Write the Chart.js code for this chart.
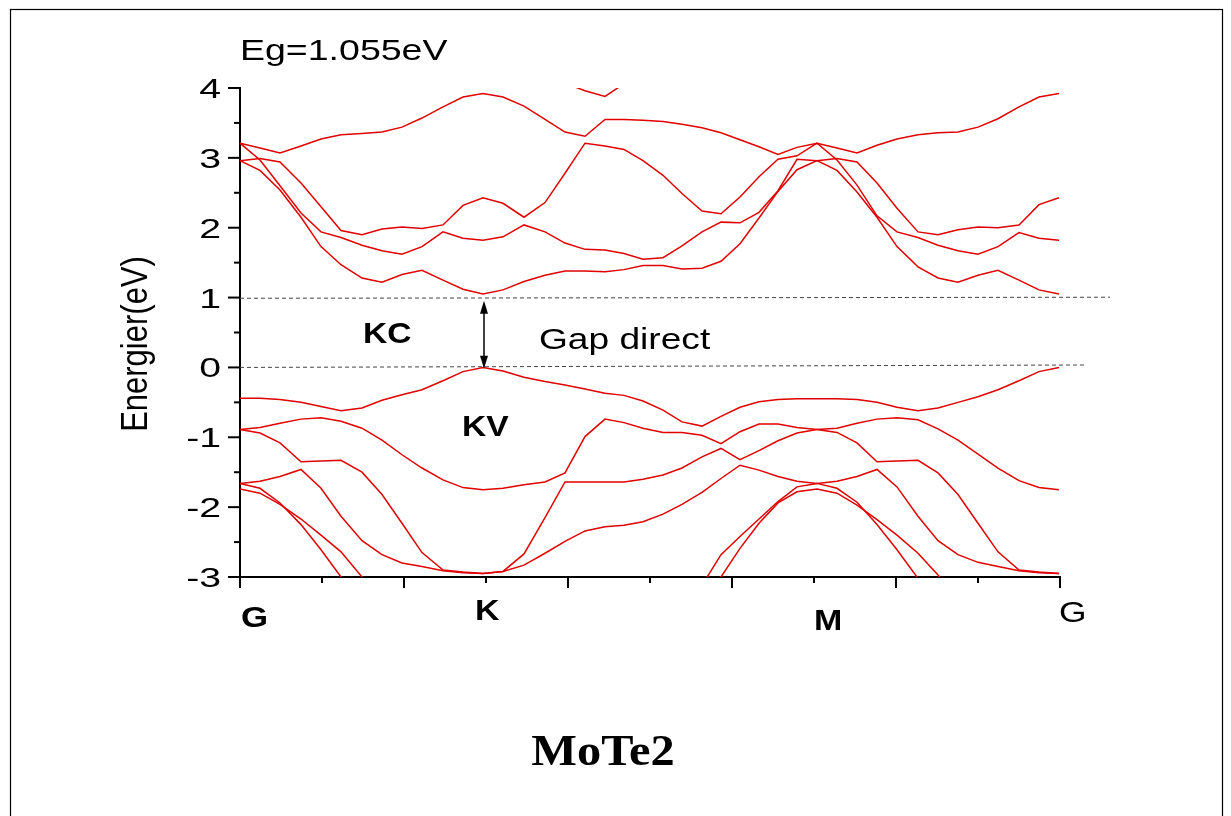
<!DOCTYPE html>
<html>
<head>
<meta charset="utf-8">
<script src="https://cdn.jsdelivr.net/npm/chart.js@4.4.0/dist/chart.umd.min.js"></script>
<style>
html,body{margin:0;padding:0;background:#fff;}
canvas{display:block;}
</style>
</head>
<body>
<canvas id="c" width="1231" height="816"></canvas>
<script>
// k-path coordinate of every computed point (G-K : 13 pts, K-M : 17 pts, M-G : 12 pts)
const kPath = [0,20,40,61,81,101,122,142,162,182,203,223,243,
  263,284,305,325,345,365,384,403,423,442,462,481,500,519,538,557,577,
  597,617,637,657,678,698,718,738,758,779,799,819];

// conduction bands (eV)
const cb1 = [2.96,2.82,2.54,2.15,1.73,1.47,1.28,1.22,1.33,1.39,1.25,1.12,1.05,
  1.11,1.23,1.32,1.38,1.38,1.37,1.40,1.46,1.46,1.41,1.42,1.52,1.77,2.14,2.52,2.83,2.96,
  2.82,2.51,2.15,1.73,1.44,1.28,1.22,1.32,1.39,1.25,1.11,1.05];
const cb2 = [3.21,2.97,2.60,2.21,1.94,1.86,1.75,1.67,1.62,1.73,1.94,1.85,1.82,
  1.87,2.04,1.94,1.78,1.69,1.68,1.63,1.55,1.57,1.74,1.94,2.08,2.07,2.22,2.53,2.98,2.96,
  2.99,2.94,2.64,2.28,1.94,1.90,1.97,2.01,2.00,2.04,2.33,2.43];
const cb3 = [2.96,2.99,2.94,2.64,2.30,1.96,1.90,1.98,2.01,1.99,2.04,2.32,2.43,
  2.35,2.15,2.36,2.78,3.21,3.17,3.12,2.96,2.75,2.49,2.24,2.20,2.44,2.73,2.98,3.03,3.21,
  2.97,2.61,2.17,1.94,1.86,1.75,1.67,1.62,1.73,1.93,1.85,1.82];
const cb4 = [3.21,3.14,3.07,3.17,3.27,3.33,3.35,3.37,3.44,3.57,3.73,3.87,3.92,
  3.87,3.74,3.55,3.37,3.31,3.55,3.55,3.54,3.52,3.48,3.43,3.36,3.26,3.16,3.05,3.15,3.21,
  3.14,3.07,3.18,3.27,3.33,3.36,3.37,3.44,3.56,3.73,3.87,3.92];
const cb5 = [null,null,null,null,null,null,null,null,null,null,null,null,null,
  null,null,null,4.07,3.96,3.88,4.06,null,null,null,null,null,null,null,null,null,null,
  null,null,null,null,null,null,null,null,null,null,null,null];

// valence bands (eV)
const vb1 = [-0.44,-0.44,-0.46,-0.50,-0.56,-0.62,-0.58,-0.47,-0.39,-0.32,-0.19,-0.06,0.00,
  -0.05,-0.14,-0.20,-0.25,-0.31,-0.37,-0.40,-0.48,-0.61,-0.78,-0.84,-0.70,-0.57,-0.49,-0.46,-0.45,-0.45,
  -0.45,-0.46,-0.50,-0.57,-0.62,-0.58,-0.50,-0.42,-0.32,-0.19,-0.06,0.00];
const vb2 = [-0.89,-0.86,-0.80,-0.74,-0.72,-0.77,-0.87,-1.04,-1.25,-1.44,-1.61,-1.72,-1.75,
  -1.73,-1.68,-1.64,-1.51,-0.99,-0.74,-0.79,-0.87,-0.93,-0.93,-0.97,-1.09,-0.92,-0.81,-0.81,-0.86,-0.89,
  -0.93,-1.08,-1.35,-1.34,-1.33,-1.51,-1.82,-2.23,-2.64,-2.90,-2.93,-2.95];
const vb3 = [-0.89,-0.94,-1.08,-1.35,-1.34,-1.33,-1.50,-1.82,-2.23,-2.65,-2.90,-2.93,-2.95,
  -2.92,-2.67,-2.15,-1.64,-1.64,-1.64,-1.64,-1.60,-1.54,-1.44,-1.28,-1.16,-1.32,-1.19,-1.05,-0.94,-0.89,
  -0.87,-0.80,-0.74,-0.72,-0.75,-0.88,-1.04,-1.24,-1.44,-1.62,-1.72,-1.75];
const vb4 = [-1.66,-1.63,-1.56,-1.46,-1.73,-2.13,-2.48,-2.68,-2.80,-2.85,-2.91,-2.94,-2.95,
  -2.92,-2.83,-2.66,-2.49,-2.34,-2.28,-2.26,-2.21,-2.10,-1.96,-1.79,-1.59,-1.40,-1.47,-1.56,-1.63,-1.66,
  -1.63,-1.56,-1.46,-1.71,-2.13,-2.48,-2.68,-2.79,-2.85,-2.91,-2.94,-2.95];
const vb5 = [-1.66,-1.73,-1.94,-2.25,-2.61,-3.00,-3.40,null,null,null,null,null,null,
  null,null,null,null,null,null,null,null,null,null,-3.12,-2.68,-2.42,-2.17,-1.92,-1.71,-1.66,
  -1.73,-1.93,-2.25,-2.61,-3.02,-3.40,null,null,null,null,null,null];
const vb6 = [-1.74,-1.80,-1.96,-2.17,-2.40,-2.64,-3.00,-3.35,null,null,null,null,null,
  null,null,null,null,null,null,null,null,null,null,-3.50,-3.00,-2.59,-2.23,-1.94,-1.78,-1.74,
  -1.80,-1.97,-2.18,-2.40,-2.66,-2.97,-3.40,null,null,null,null,null];

// band-edge reference lines (dashed)
const cbmLineX = [0, 870];
const cbmLineY = [0.99, 1.005];
const vbmLineX = [0, 845];
const vbmLineY = [0.00, 0.035];

// axes
const yMajorTicks = [-3,-2,-1,0,1,2,3,4];
const yTickLabels = ['-3','-2','-1','0','1','2','3','4'];
const yMinorTicks = [-2.5,-1.5,-0.5,0.5,1.5,2.5,3.5];
const xMajorTicks = [0,164,328,492,656,820];
const xMinorTicks = [82,246,410,574,738];
const kLabels = ['G','K','M','G'];

// gap arrow (at K)
const arrowX = 244;
const arrowY = [0.955, -0.02];

const RED = '#e00000';
const bands = [cb1,cb2,cb3,cb4,cb5,vb1,vb2,vb3,vb4,vb5,vb6];
const datasets = bands.map(b => ({
  data: kPath.map((x,i) => ({x: x, y: b[i]})),
  borderColor: RED, borderWidth: 1.5, pointRadius: 0, tension: 0, fill: false, spanGaps: false
}));
datasets.push({
  data: cbmLineX.map((x,i)=>({x:x, y:cbmLineY[i]})),
  borderColor:'#444', borderWidth:1, borderDash:[4,3], pointRadius:0, clip:false
});
datasets.push({
  data: vbmLineX.map((x,i)=>({x:x, y:vbmLineY[i]})),
  borderColor:'#444', borderWidth:1, borderDash:[4,3], pointRadius:0, clip:false
});

function txt(ctx, s, x, y, font, sx, align){
  ctx.save();
  ctx.translate(x, y);
  ctx.scale(sx, 1);
  ctx.font = font;
  ctx.textAlign = align || 'left';
  ctx.textBaseline = 'alphabetic';
  ctx.fillStyle = '#000';
  ctx.fillText(s, 0, 0);
  ctx.restore();
}
function seg(ctx, x1, y1, x2, y2){
  ctx.beginPath(); ctx.moveTo(x1,y1); ctx.lineTo(x2,y2); ctx.stroke();
}

const deco = {
  id: 'deco',
  afterDraw(chart){
    const ctx = chart.ctx, xs = chart.scales.x, ys = chart.scales.y;
    const area = chart.chartArea;
    ctx.save();
    // page frame
    ctx.strokeStyle = '#000'; ctx.lineWidth = 1.2;
    ctx.strokeRect(10.5, 9.5, 1212, 830);
    // ticks
    ctx.lineWidth = 2; ctx.strokeStyle = '#000';
    yMajorTicks.forEach(v => { const p = ys.getPixelForValue(v); seg(ctx, area.left-12, p, area.left, p); });
    yMinorTicks.forEach(v => { const p = ys.getPixelForValue(v); seg(ctx, area.left-6, p, area.left, p); });
    xMajorTicks.forEach(v => { const p = xs.getPixelForValue(v); seg(ctx, p, area.bottom, p, area.bottom+11); });
    xMinorTicks.forEach(v => { const p = xs.getPixelForValue(v); seg(ctx, p, area.bottom, p, area.bottom+6); });
    // y tick labels
    yMajorTicks.forEach((v,i) => {
      const p = ys.getPixelForValue(v);
      txt(ctx, yTickLabels[i], 221, p + 10, '28px "Liberation Sans", Arial, sans-serif', 1.4, 'right');
    });
    // y title
    ctx.save();
    ctx.translate(147, 344);
    ctx.rotate(-Math.PI/2);
    ctx.scale(1, 1.2);
    ctx.font = '31px "Liberation Sans", Arial, sans-serif';
    ctx.textAlign = 'center'; ctx.textBaseline = 'alphabetic'; ctx.fillStyle = '#000';
    ctx.fillText('Energier(eV)', 0, 0);
    ctx.restore();
    // k-point labels
    const bold = 'bold 29px "Liberation Sans", Arial, sans-serif';
    txt(ctx, kLabels[0], 241, 627, bold, 1.2);
    txt(ctx, kLabels[1], 475, 620, bold, 1.17);
    txt(ctx, kLabels[2], 814, 630, bold, 1.17);
    txt(ctx, kLabels[3], 1059, 622, '29px "Liberation Sans", Arial, sans-serif', 1.22);
    // annotations
    txt(ctx, 'Eg=1.055eV', 240, 60, '30px "Liberation Sans", Arial, sans-serif', 1.25);
    txt(ctx, 'KC', 363, 343, 'bold 30px "Liberation Sans", Arial, sans-serif', 1.12);
    txt(ctx, 'KV', 462, 436, 'bold 30px "Liberation Sans", Arial, sans-serif', 1.12);
    txt(ctx, 'Gap direct', 539, 349, '29px "Liberation Sans", Arial, sans-serif', 1.28);
    txt(ctx, 'MoTe2', 603, 765, 'bold 44px "Liberation Serif", "Times New Roman", serif', 1.1, 'center');
    // double arrow
    const ax = xs.getPixelForValue(arrowX);
    const ay1 = ys.getPixelForValue(arrowY[0]);
    const ay2 = ys.getPixelForValue(arrowY[1]);
    ctx.strokeStyle = '#000'; ctx.fillStyle = '#000'; ctx.lineWidth = 1.5;
    seg(ctx, ax, ay1 + 10, ax, ay2 - 10);
    ctx.beginPath(); ctx.moveTo(ax, ay1); ctx.lineTo(ax-4, ay1+13); ctx.lineTo(ax+4, ay1+13); ctx.closePath(); ctx.fill();
    ctx.beginPath(); ctx.moveTo(ax, ay2); ctx.lineTo(ax-4, ay2-13); ctx.lineTo(ax+4, ay2-13); ctx.closePath(); ctx.fill();
    ctx.restore();
  }
};

new Chart(document.getElementById('c'), {
  type: 'line',
  data: { datasets: datasets },
  options: {
    responsive: false,
    animation: false,
    events: [],
    layout: { padding: { left: 240, top: 88, right: 171, bottom: 239 } },
    plugins: { legend: { display: false }, tooltip: { enabled: false } },
    scales: {
      x: { type: 'linear', min: 0, max: 820,
           grid: { display: false, drawTicks: false }, ticks: { display: false },
           border: { display: true, color: '#000', width: 2 } },
      y: { type: 'linear', min: -3, max: 4,
           grid: { display: false, drawTicks: false }, ticks: { display: false },
           border: { display: true, color: '#000', width: 2 } }
    }
  },
  plugins: [deco]
});
</script>
</body>
</html>
